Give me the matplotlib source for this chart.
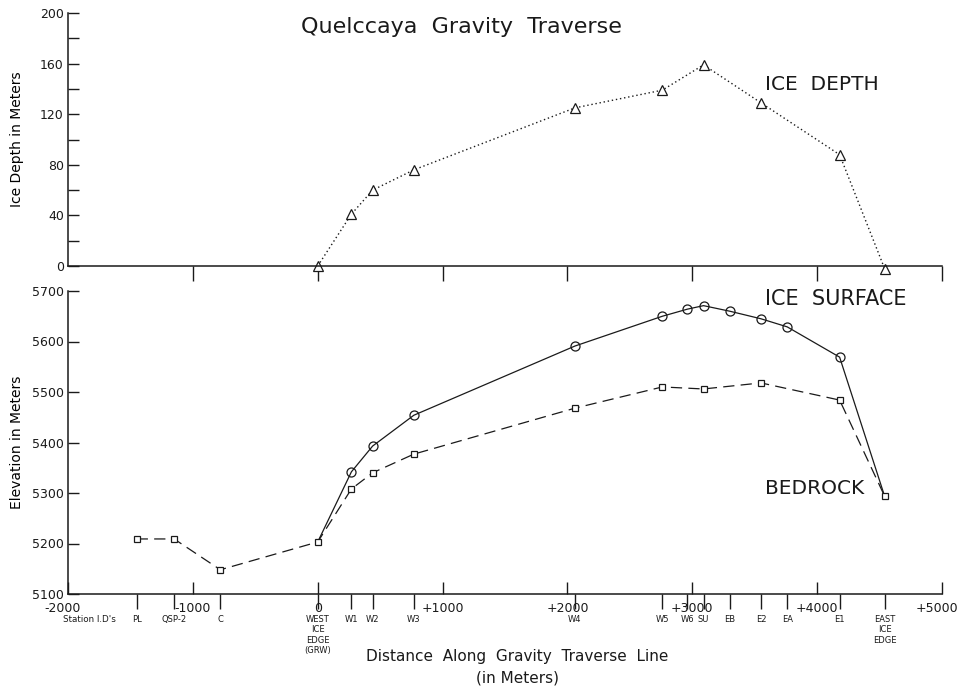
import matplotlib
matplotlib.use('Agg')
from matplotlib import pyplot as plt
from matplotlib.transforms import ScaledTranslation

# estaciones a lo largo del perfil (m)
station_x = [-1450, -1150, -780, 0, 270, 440, 770, 2060, 2760, 2960, 3090,
             3300, 3550, 3760, 4180, 4540]
station_names = ['PL', 'QSP-2', 'C', 'WEST\nICE\nEDGE\n(GRW)', 'W1', 'W2', 'W3',
                 'W4', 'W5', 'W6', 'SU', 'EB', 'E2', 'EA', 'E1',
                 'EAST\nICE\nEDGE']

# espesor de hielo
depth_x = [0, 270, 440, 770, 2060, 2760, 3090, 3550, 4180, 4540]
depth_m = [0, 41, 60, 76, 125, 139, 159, 129, 88, -2]

# superficie del hielo
surf_x = [0, 270, 440, 770, 2060, 2760, 2960, 3090, 3300, 3550, 3760, 4180, 4540]
surf_m = [5203, 5342, 5393, 5454, 5591, 5650, 5664, 5671, 5660, 5645, 5629,
          5569, 5294]

# roca
bed_x = [-1450, -1150, -780, 0, 270, 440, 770, 2060, 2760, 3090, 3550, 4180, 4540]
bed_m = [5209, 5209, 5148, 5203, 5308, 5340, 5377, 5468, 5510, 5506, 5518,
         5484, 5294]

dist_ticks = [-2000, -1000, 0, 1000, 2000, 3000, 4000, 5000]
dist_labels = ['-2000', '-1000', '0', '+1000', '+2000', '+3000', '+4000', '+5000']

ink = '#1a1a1a'
plt.rcParams['font.family'] = 'DejaVu Sans'
plt.rcParams['text.color'] = ink
plt.rcParams['axes.edgecolor'] = ink
plt.rcParams['xtick.color'] = ink
plt.rcParams['ytick.color'] = ink

fig = plt.figure(figsize=(9.6, 6.86), dpi=100)
ax1 = fig.add_axes([68/960, 1 - 266/686, 874/960, 253/686])
ax2 = fig.add_axes([68/960, 1 - 594/686, 874/960, 303/686])

for ax in (ax1, ax2):
    ax.spines[['top', 'right']].set_visible(False)
    ax.spines[['left', 'bottom']].set_linewidth(1.1)
    ax.set_xlim(-2000, 5000)

# panel superior
ax1.plot(depth_x, depth_m, color=ink, lw=1.0, linestyle=(0, (1, 2)),
         marker='^', markersize=7, markerfacecolor='white', markeredgewidth=0.9,
         clip_on=False)
ax1.set_ylim(0, 200)
ax1.set_yticks(range(0, 201, 40))
ax1.set_yticks(range(20, 200, 40), minor=True)
ax1.tick_params(axis='y', which='both', direction='in', length=8, width=1,
                labelsize=9, pad=3)
ax1.set_xticks(range(-1000, 5001, 1000))
ax1.set_xticklabels([])
ax1.tick_params(axis='x', direction='out', length=11, width=1)
ax1.set_ylabel('Ice Depth in Meters', fontsize=10)
ax1.yaxis.set_label_coords(-44/874, 0.5)

# panel inferior
ax2.plot(surf_x, surf_m, color=ink, lw=0.9, linestyle='-',
         marker='o', markersize=6.5, markerfacecolor='none', markeredgewidth=0.9,
         markevery=list(range(1, len(surf_x) - 1)))
ax2.plot(bed_x, bed_m, color=ink, lw=0.9, linestyle=(0, (9, 5)),
         marker='s', markersize=4.5, markerfacecolor='white',
         markeredgewidth=0.9)
ax2.set_ylim(5100, 5700)
ax2.set_yticks(range(5100, 5701, 100))
ax2.tick_params(axis='y', direction='in', length=8, width=1, labelsize=9, pad=3)
ax2.set_ylabel('Elevation in Meters', fontsize=10)
ax2.yaxis.set_label_coords(-44/874, 0.5)

ax2.xaxis.remove_overlapping_locs = False
ax2.set_xticks(dist_ticks, dist_labels)
ax2.set_xticks(station_x, station_names, minor=True)
ax2.tick_params(axis='x', which='major', direction='in', length=9, width=1,
                labelsize=9, pad=6)
ax2.tick_params(axis='x', which='minor', direction='out', length=11, width=1,
                labelsize=6, pad=4)
# correr un poco las etiquetas de los extremos
first, last = ax2.get_xticklabels()[0], ax2.get_xticklabels()[-1]
first.set_transform(first.get_transform() + ScaledTranslation(-4/72, 0, fig.dpi_scale_trans))
last.set_transform(last.get_transform() + ScaledTranslation(-4/72, 0, fig.dpi_scale_trans))

fig.text(765/960, 1 - 84/686, 'ICE  DEPTH', fontsize=14.5, va='center')
fig.text(765/960, 1 - 299/686, 'ICE  SURFACE', fontsize=15, va='center')
fig.text(765/960, 1 - 488/686, 'BEDROCK', fontsize=14.5, va='center')
fig.text(89/960, 1 - 619/686, "Station I.D's", fontsize=6.3, ha='center',
         va='center')

fig.text(461/960, 1 - 27/686, 'Quelccaya  Gravity  Traverse', fontsize=16,
         ha='center', va='center')
fig.text(517/960, 1 - 657/686, 'Distance  Along  Gravity  Traverse  Line',
         fontsize=11, ha='center', va='center')
fig.text(517/960, 1 - 678/686, '(in Meters)', fontsize=11, ha='center',
         va='center')

fig.savefig('out.png', dpi=100, facecolor='white')
